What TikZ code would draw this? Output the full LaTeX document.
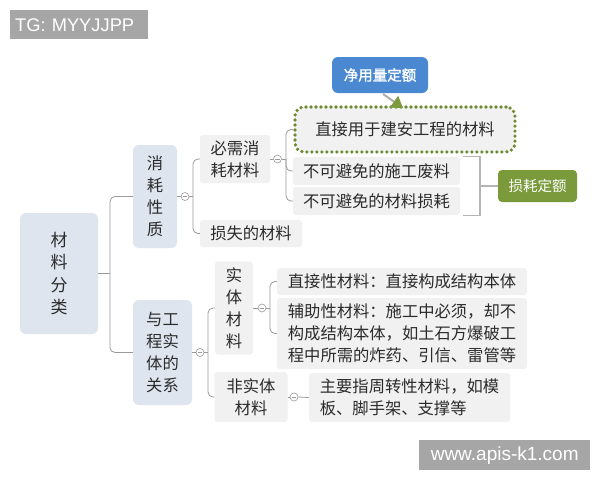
\documentclass[tikz,border=0pt]{standalone}
\usepackage{fontspec}
\setmainfont{Liberation Sans}
\newfontfamily\cjk{Noto Sans CJK SC}
\newfontfamily\cjkb{Noto Sans CJK SC}[FakeBold=1.5]
\usetikzlibrary{arrows.meta}
\definecolor{rootfill}{HTML}{DEE5EE}
\definecolor{boxfill}{HTML}{F1F1F1}
\definecolor{linec}{HTML}{9A9A9A}
\definecolor{brackc}{HTML}{B5B5B5}
\definecolor{olivec}{HTML}{7A9A3C}
\definecolor{dotc}{HTML}{6E8A30}
\definecolor{bluec}{HTML}{4A89D2}
\definecolor{txt}{HTML}{2B2B2B}
\definecolor{wmark}{HTML}{A6A6A6}
\begin{document}
\begin{tikzpicture}[x=1pt,y=-1pt,
  base/.style={inner sep=0pt, align=center, text=txt, font=\cjk\fontsize{16.3}{22}\selectfont},
  lvl1/.style={base, fill=rootfill, rounded corners=6pt},
  lvl2/.style={base, fill=boxfill, rounded corners=3pt},
  tagbox/.style={inner sep=0pt, rounded corners=6pt, text=white, align=center},
  conn/.style={draw=linec, line width=0.8pt, rounded corners=5pt},
  brack/.style={draw=brackc, line width=1.2pt},
  collapse/.style={circle, draw=linec, fill=white, line width=0.6pt, minimum size=8pt, inner sep=0pt,
    path picture={\draw[linec, line width=0.6pt] ([xshift=-2.2pt]path picture bounding box.center) -- ([xshift=2.2pt]path picture bounding box.center);}},
  wm/.style={fill=wmark, text=white, inner sep=0pt, anchor=north west}
]
\useasboundingbox (0,0) rectangle (600,480);
\fill[white] (0,0) rectangle (600,480);

% watermarks
\node[wm, minimum width=138pt, minimum height=29pt, font=\fontsize{18.3}{20}\selectfont, text width=128pt, align=left] (tg) at (10,10) {TG: MYYJJPP};
\node[wm, minimum width=171pt, minimum height=30pt, font=\fontsize{19}{20}\selectfont] (www) at (419,440) {www.apis-k1.com};

% nodes
\node[lvl1, minimum width=78pt, minimum height=121pt, font=\cjk\fontsize{17}{22.3}\selectfont] (root) at (59,273.5) {材\\料\\分\\类};
\node[lvl1, minimum width=44pt, minimum height=103pt] (n1) at (155,196.5) {消\\耗\\性\\质};
\node[lvl1, minimum width=59pt, minimum height=105pt] (n2) at (162.5,352.5) {与工\\程实\\体的\\关系};

\node[lvl2, minimum width=70pt, minimum height=48pt] (a1) at (235,159) {必需消\\耗材料};
\node[lvl2, minimum width=102pt, minimum height=27pt] (a2) at (251,233.5) {损失的材料};

\node[lvl2, minimum width=220pt, minimum height=45pt, rounded corners=9pt,
      draw=dotc, line width=3.6pt, dash pattern=on 0pt off 5pt, line cap=round] (b1) at (405,129.5) {直接用于建安工程的材料};
\node[lvl2, minimum width=167pt, minimum height=28pt] (b2) at (376.5,171) {不可避免的施工废料};
\node[lvl2, minimum width=167pt, minimum height=28pt] (b3) at (376.5,201) {不可避免的材料损耗};

\node[tagbox, fill=bluec, minimum width=96pt, minimum height=36pt, font=\cjkb\fontsize{14.5}{16}\selectfont] (c1) at (380,75) {净用量定额};
\node[tagbox, fill=olivec, minimum width=79pt, minimum height=32pt, rounded corners=4pt, font=\cjk\fontsize{14.5}{16}\selectfont] (c2) at (537.5,186) {损耗定额};

\node[lvl2, minimum width=38pt, minimum height=93pt] (s1) at (234,308) {实\\体\\材\\料};
\node[lvl2, minimum width=73pt, minimum height=50pt] (s2) at (251,397) {非实体\\材料};

\node[lvl2, minimum width=250pt, minimum height=27pt] (t1) at (402,281.5) {直接性材料：直接构成结构本体};
\node[lvl2, minimum width=250pt, minimum height=71pt] (t2) at (402,333.5) {辅助性材料：施工中必须，却不\\构成结构本体，如土石方爆破工\\程中所需的炸药、引信、雷管等};
\node[lvl2, minimum width=201pt, minimum height=49pt, align=left] (t3) at (409.5,397.5) {主要指周转性材料，如模\\板、脚手架、支撑等};

% collapse markers and junctions
\coordinate (j0) at (110,273.5);
\node[collapse] (k1) at (185,196.5) {};
\coordinate (j1) at (193,196.5);
\node[collapse] (k2) at (277.5,159) {};
\coordinate (j2) at (286,159);
\node[collapse] (k3) at (200,352.5) {};
\coordinate (j3) at (208,352.5);
\node[collapse] (k4) at (262,308) {};
\coordinate (j4) at (270,308);
\node[collapse] (k5) at (294,397) {};
\coordinate (r1) at (480,186);

% connectors
\draw[conn] (root.east) -- (j0);
\draw[conn] (j0) |- (n1.west);
\draw[conn] (j0) |- (n2.west);

\draw[conn] (n1.east) -- (k1.west);
\draw[conn] (k1.east) -- (j1);
\draw[conn] (j1) |- (a1.west);
\draw[conn] (j1) |- (a2.west);

\draw[conn] (a1.east) -- (k2.west);
\draw[conn] (k2.east) -- (j2);
\draw[conn] (j2) |- (b1.west);
\draw[conn] (j2) |- (b2.west);
\draw[conn] (j2) |- (b3.west);

\draw[conn] (n2.east) -- (k3.west);
\draw[conn] (k3.east) -- (j3);
\draw[conn] (j3) |- (s1.west);
\draw[conn] (j3) |- (s2.west);

\draw[conn] (s1.east) -- (k4.west);
\draw[conn] (k4.east) -- (j4);
\draw[conn] (j4) |- (t1.west);
\draw[conn] (j4) |- (t2.west);

\draw[conn] (s2.east) -- (k5.west);
\draw[conn] (k5.east) -- (t3.west);

% bracket to 损耗定额
\draw[brack] ([xshift=3pt]b2.north east) -| (r1) |- ([xshift=3pt]b3.south east);
\draw[brack] (r1) -- (c2.west);

% callout from 净用量定额
\coordinate (ca) at (383,94);
\coordinate (cb) at (403,108);
\draw[draw=linec!80, line width=2pt, -{Triangle[color=olivec, length=11pt, width=14pt]}] (ca) -- (cb);
\end{tikzpicture}
\end{document}
